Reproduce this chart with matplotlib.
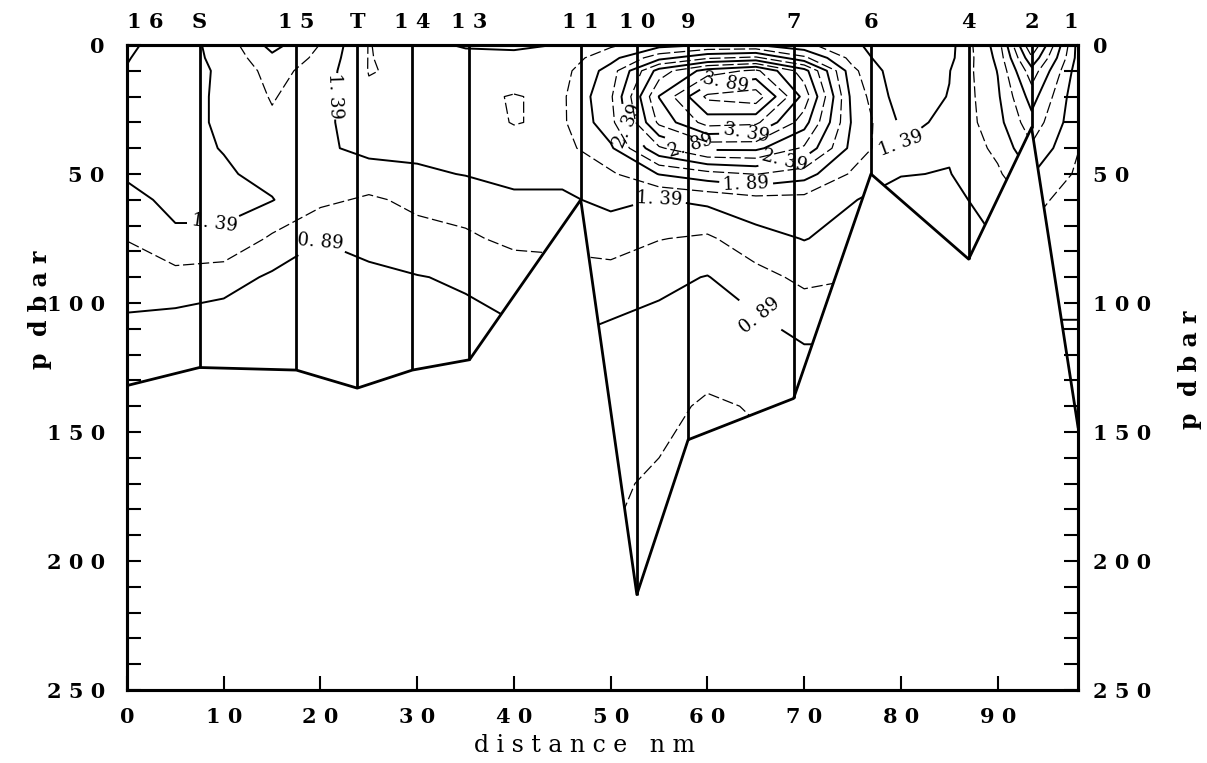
import numpy as np
import matplotlib
matplotlib.use("Agg")
import matplotlib.pyplot as plt
from matplotlib.patches import Polygon

plt.rcParams["font.family"] = "DejaVu Serif"

# stations along the section: name, distance (nm), bottom pressure (dbar)
stations = ["1 6", "S", "1 5", "T", "1 4", "1 3", "1 1", "1 0", "9", "7", "6", "4", "2", "1"]
station_dist = [0.0, 7.5, 17.5, 23.8, 29.5, 35.4, 46.9, 52.7, 58.0, 68.9, 76.9, 87.0, 93.5, 98.3]
station_bottom = [132, 125, 126, 133, 126, 122, 60, 213, 153, 137, 50, 83, 32, 148]

# gridded section values (rows: pressure, columns: distance)
grid_dist = [0, 5, 10, 15, 20, 25, 30, 35, 40, 45, 50, 55, 60, 65, 70, 75, 80, 85, 90, 93.5, 98.3]
grid_pres = [0, 5, 10, 20, 30, 40, 50, 60, 75, 90, 105, 120, 140, 170, 215]
values = np.array([
    [1.35, 1.50, 1.30, 0.80, 1.15, 1.65, 1.50, 1.35, 1.35, 1.40, 1.60, 1.80, 1.90, 1.90, 1.70, 1.45, 1.15, 1.30, 2.00, 3.40, 1.80],
    [1.38, 1.50, 1.32, 0.95, 1.20, 1.65, 1.55, 1.50, 1.45, 1.50, 1.80, 2.30, 2.60, 2.70, 2.20, 1.55, 1.15, 1.32, 1.95, 3.10, 1.80],
    [1.40, 1.50, 1.35, 1.05, 1.25, 1.65, 1.60, 1.60, 1.55, 1.55, 2.00, 3.00, 3.50, 3.70, 3.00, 1.70, 1.20, 1.38, 1.90, 2.80, 1.75],
    [1.42, 1.48, 1.35, 1.12, 1.30, 1.60, 1.55, 1.60, 1.65, 1.60, 2.10, 3.40, 4.20, 4.30, 3.30, 1.80, 1.25, 1.40, 1.85, 2.50, 1.70],
    [1.45, 1.48, 1.35, 1.18, 1.32, 1.55, 1.50, 1.55, 1.65, 1.60, 2.05, 3.20, 3.75, 3.70, 3.00, 1.85, 1.35, 1.42, 1.80, 2.30, 1.70],
    [1.45, 1.46, 1.38, 1.25, 1.35, 1.45, 1.45, 1.50, 1.55, 1.55, 1.85, 2.60, 2.95, 2.95, 2.60, 1.80, 1.40, 1.42, 1.70, 2.10, 1.65],
    [1.42, 1.46, 1.42, 1.32, 1.38, 1.30, 1.35, 1.40, 1.45, 1.45, 1.60, 1.90, 2.05, 2.15, 2.00, 1.60, 1.40, 1.38, 1.60, 1.90, 1.60],
    [1.32, 1.45, 1.45, 1.40, 1.20, 1.10, 1.20, 1.25, 1.35, 1.35, 1.45, 1.38, 1.45, 1.55, 1.55, 1.40, 1.30, 1.32, 1.50, 1.70, 1.55],
    [1.15, 1.35, 1.35, 1.10, 0.90, 0.95, 1.05, 1.10, 1.20, 1.20, 1.25, 1.15, 1.10, 1.30, 1.40, 1.30, 1.20, 1.25, 1.40, 1.60, 1.50],
    [1.00, 1.05, 1.00, 0.85, 0.78, 0.85, 0.88, 0.92, 1.00, 1.05, 1.05, 0.95, 0.88, 1.05, 1.20, 1.15, 1.10, 1.15, 1.30, 1.50, 1.45],
    [0.88, 0.85, 0.80, 0.75, 0.72, 0.75, 0.80, 0.85, 0.90, 0.95, 0.90, 0.85, 0.78, 0.88, 1.00, 1.00, 1.00, 1.05, 1.20, 1.40, 1.40],
    [0.80, 0.75, 0.70, 0.70, 0.68, 0.68, 0.72, 0.75, 0.80, 0.85, 0.80, 0.75, 0.70, 0.75, 0.85, 0.85, 0.90, 0.95, 1.10, 1.30, 1.30],
    [0.75, 0.70, 0.66, 0.65, 0.65, 0.65, 0.68, 0.70, 0.72, 0.75, 0.72, 0.68, 0.62, 0.65, 0.70, 0.75, 0.80, 0.90, 1.00, 1.20, 1.20],
    [0.70, 0.66, 0.62, 0.62, 0.62, 0.62, 0.64, 0.66, 0.68, 0.70, 0.66, 0.62, 0.58, 0.60, 0.64, 0.68, 0.75, 0.85, 0.95, 1.10, 1.10],
    [0.66, 0.62, 0.60, 0.60, 0.60, 0.60, 0.60, 0.62, 0.64, 0.66, 0.62, 0.58, 0.55, 0.56, 0.60, 0.62, 0.70, 0.80, 0.90, 1.00, 1.00],
])

main_levels = [0.39, 0.89, 1.39, 1.89, 2.39, 2.89, 3.39, 3.89]
half_levels = [0.64, 1.14, 1.64, 2.14, 2.64, 3.14, 3.64, 4.14]

# labelled contours: level and where its label goes (nm, dbar)
label_levels = [1.39, 1.39, 0.89, 3.89, 3.39, 2.89, 2.39, 2.39, 1.89, 1.39, 1.39, 0.89]
label_spots = [(22, 20), (9, 70), (20, 76), (62, 18), (64, 34), (58, 41),
               (52, 31), (68, 45), (64, 54), (55, 60), (80, 38), (67, 97)]

fig = plt.figure(figsize=(12.07, 7.63), dpi=100)
ax = fig.add_axes([127 / 1207, 1 - 690 / 763, 951 / 1207, 645 / 763])

# section outline: surface plus the line joining station bottoms
outline = [(station_dist[0], 0), (station_dist[-1], 0)]
outline += list(zip(station_dist[::-1], station_bottom[::-1]))
clip = Polygon(outline, closed=True, transform=ax.transData)

X, Y = np.meshgrid(grid_dist, grid_pres)
cs_half = ax.contour(X, Y, values, levels=half_levels, colors="black",
                     linewidths=0.9, linestyles=[(0, (9, 3))])
cs_half.set_clip_path(clip)

# one contour set per labelled level so each label lands on its own line
for lev in main_levels:
    cs = ax.contour(X, Y, values, levels=[lev], colors="black",
                    linewidths=1.4, linestyles="solid")
    cs.set_clip_path(clip)
    spots = [s for l, s in zip(label_levels, label_spots) if l == lev]
    if spots:
        cs.clabel(manual=spots, inline=True, inline_spacing=4,
                  fmt=lambda v: f"{v:.2f}".replace(".", ". "), fontsize=13)

# station casts and bottom line
for d, b in zip(station_dist[1:-1], station_bottom[1:-1]):
    ax.plot([d, d], [0, b], color="black", lw=2.0, solid_capstyle="butt")
ax.plot(station_dist, station_bottom, color="black", lw=2.0)

for i, (name, d) in enumerate(zip(stations, station_dist)):
    ha = "left" if i == 0 else ("right" if i == len(stations) - 1 else "center")
    ax.text(d, 1.035, name, transform=ax.get_xaxis_transform(), ha=ha, va="center",
            fontsize=15, fontweight="bold")

ax.set_xlim(0, 98.3)
ax.set_ylim(250, 0)
for s in ax.spines.values():
    s.set_linewidth(2.2)

xt = list(range(0, 91, 10))
ax.set_xticks(xt)
ax.set_xticklabels([" ".join(str(v)) for v in xt])
yt = list(range(0, 251, 50))
ax.set_yticks(yt)
ax.set_yticklabels([" ".join(str(v)) for v in yt])
ax.set_yticks(range(0, 251, 10), minor=True)
ax.tick_params(axis="x", direction="in", length=10, width=1.5, pad=12, top=False)
ax.tick_params(axis="y", which="both", direction="in", length=10, width=1.5, pad=16)
for lab in ax.get_xticklabels() + ax.get_yticklabels():
    lab.set_fontweight("bold")
    lab.set_fontsize(15)

# right-hand pressure scale
ax2 = ax.twinx()
ax2.set_ylim(250, 0)
ax2.set_yticks(yt)
ax2.set_yticklabels([" ".join(str(v)) for v in yt])
ax2.set_yticks(range(0, 251, 10), minor=True)
ax2.tick_params(axis="y", which="both", direction="in", length=10, width=1.5, pad=11)
for lab in ax2.get_yticklabels():
    lab.set_fontweight("bold")
    lab.set_fontsize(15)
for s in ax2.spines.values():
    s.set_linewidth(2.2)

fig.text(585 / 1207, 1 - 745 / 763, "d i s t a n c e   n m", ha="center", va="center",
         fontsize=17)
fig.text(40 / 1207, 1 - 310 / 763, "p  d b a r", ha="center", va="center",
         rotation=90, fontsize=17, fontweight="bold")
fig.text(1190 / 1207, 1 - 370 / 763, "p  d b a r", ha="center", va="center",
         rotation=90, fontsize=17, fontweight="bold")

fig.savefig("out.png", dpi=100)
